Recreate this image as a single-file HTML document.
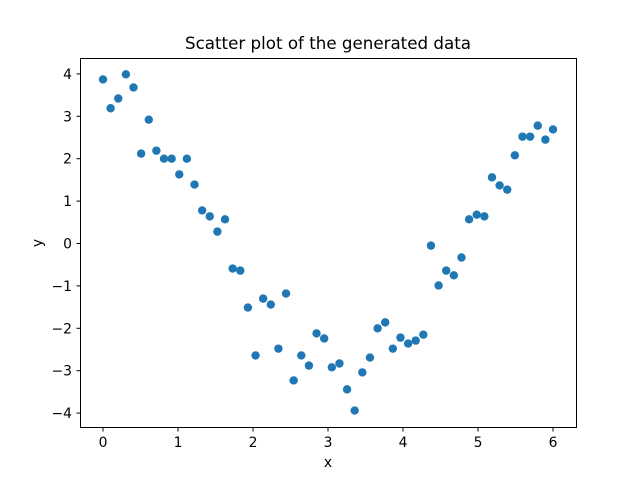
<!DOCTYPE html>
<html><head><meta charset="utf-8"><style>
html,body{margin:0;padding:0;background:#fff}
svg{display:block;font-family:"DejaVu Sans","Liberation Sans",sans-serif}
</style></head><body>
<svg id="chart" width="640" height="480" viewBox="0 0 640 480" xmlns="http://www.w3.org/2000/svg">
<rect width="640" height="480" fill="#fff"/>
<text x="328" y="49" text-anchor="middle" font-size="16.7">Scatter plot of the generated data</text>
<text x="328" y="467" text-anchor="middle" font-size="13.9">x</text>
<text x="42" y="243" text-anchor="middle" font-size="13.9" transform="rotate(-90 42 243)">y</text>
<g id="marks"></g>
<g id="axes"></g>
<rect x="80.5" y="58.5" width="496" height="369" fill="none" stroke="#000" stroke-width="1"/>
</svg>
<script>
const yValues = [3.87,3.19,3.42,3.99,3.68,2.12,2.92,2.19,2.0,2.0,1.63,2.0,1.39,0.78,0.64,0.28,0.57,-0.59,-0.64,-1.51,-2.64,-1.30,-1.44,-2.48,-1.18,-3.23,-2.64,-2.88,-2.12,-2.24,-2.92,-2.83,-3.44,-3.94,-3.04,-2.69,-2.0,-1.86,-2.48,-2.22,-2.36,-2.29,-2.15,-0.05,-0.99,-0.64,-0.75,-0.33,0.57,0.68,0.64,1.56,1.37,1.27,2.08,2.52,2.52,2.78,2.45,2.69];
const xMin = 0, xMax = 6;
const xTicks = [0,1,2,3,4,5,6];
const yTicks = [-4,-3,-2,-1,0,1,2,3,4];
const xTickLabels = ["0","1","2","3","4","5","6"];
const yTickLabels = ["\u22124","\u22123","\u22122","\u22121","0","1","2","3","4"];

const NS = "http://www.w3.org/2000/svg";
function xs(v){ return 103 + v*75; }
function ys(v){ return 243.5 - v*42.4; }
const marks = document.getElementById('marks');
const n = yValues.length;
yValues.forEach((y,i)=>{
  const x = xMin + (xMax-xMin)*i/(n-1);
  const c = document.createElementNS(NS,'circle');
  
  
  c.setAttribute('cx', xs(x)); c.setAttribute('cy', ys(y));
  c.setAttribute('r', 4.2); c.setAttribute('fill', '#1f77b4');
  marks.appendChild(c);
});
const axes = document.getElementById('axes');
xTicks.forEach((t,i)=>{
  const l = document.createElementNS(NS,'line');
  
  
  l.setAttribute('x1', xs(t)); l.setAttribute('x2', xs(t));
  l.setAttribute('y1', 427.5); l.setAttribute('y2', 431.5);
  l.setAttribute('stroke', '#000');
  axes.appendChild(l);
  const tx = document.createElementNS(NS,'text');
  
  
  tx.setAttribute('x', xs(t)); tx.setAttribute('y', 447);
  tx.setAttribute('text-anchor', 'middle'); tx.setAttribute('font-size', '13.9');
  tx.textContent = xTickLabels[i];
  axes.appendChild(tx);
});
yTicks.forEach((t,i)=>{
  const l = document.createElementNS(NS,'line');
  
  
  l.setAttribute('x1', 76.5); l.setAttribute('x2', 80.5);
  l.setAttribute('y1', ys(t)); l.setAttribute('y2', ys(t));
  l.setAttribute('stroke', '#000');
  axes.appendChild(l);
  const tx = document.createElementNS(NS,'text');
  
  
  tx.setAttribute('x', 72); tx.setAttribute('y', ys(t)+5);
  tx.setAttribute('text-anchor', 'end'); tx.setAttribute('font-size', '13.9');
  tx.textContent = yTickLabels[i];
  axes.appendChild(tx);
});
</script>
</body></html>
